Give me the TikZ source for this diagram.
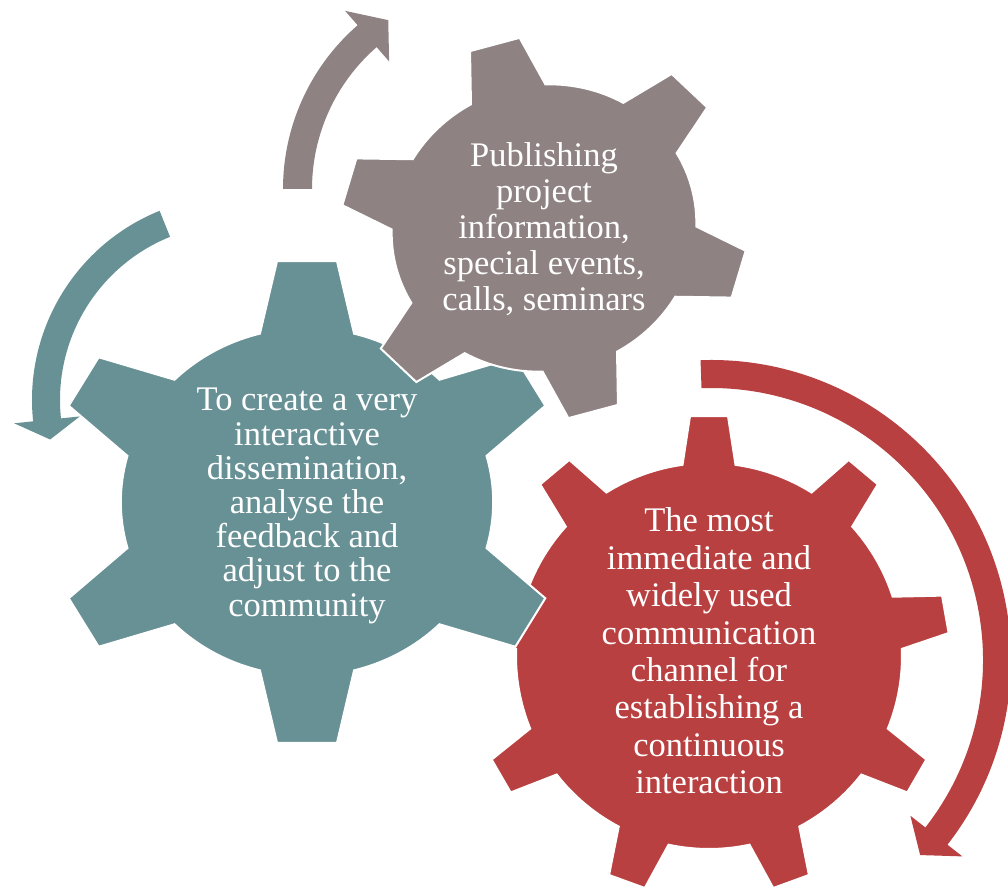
\documentclass[tikz,border=0pt]{standalone}
\usepackage{fontspec}
\setmainfont{Liberation Serif}
\definecolor{gearred}{RGB}{185,64,64}
\definecolor{gearteal}{RGB}{103,145,149}
\definecolor{geargrey}{RGB}{142,130,130}

\newcommand{\gear}[6]{%
  \pgfmathsetmacro{\gstep}{360/#2}%
  \pgfmathtruncatemacro{\glast}{#2-1}%
  \pgfmathsetmacro{\gb}{asin(#5/#3)}%
  \pgfmathsetmacro{\gt}{atan(#6/#4)}%
  \pgfmathsetmacro{\gr}{#4/cos(\gt)}%
  \filldraw[#1] ({90-\gb}:#3)
    \foreach \k in {0,...,\glast}{
      -- ({90+\k*\gstep-\gb}:#3) -- ({90+\k*\gstep-\gt}:\gr)
      -- ({90+\k*\gstep+\gt}:\gr) -- ({90+\k*\gstep+\gb}:#3)
      arc[start angle={90+\k*\gstep+\gb}, end angle={90+(\k+1)*\gstep-\gb}, radius=#3]
    } -- cycle;
}
\newcommand{\turnarrow}[6]{%
  \fill[#1] (#2:#5) arc[start angle=#2, end angle=#3, radius=#5]
    -- ({#3}:{#5+19}) -- ({#6}:{(#4+#5)/2}) -- ({#3}:{#4-19}) -- (#3:#4)
    arc[start angle=#3, end angle=#2, radius=#4] -- cycle;
}

\begin{document}
\begin{tikzpicture}[x=1pt, y=1pt,
  gearbox/.style={draw=white, line width=2pt},
  geartext/.style={text=white, align=center}]
\useasboundingbox (0,0) rectangle (1008,886);
\coordinate (gred) at (709,230);
\coordinate (gteal) at (307,384);
\coordinate (ggrey) at (544,658);
\coordinate (ared) at (711,226);
\coordinate (ateal) at (236,486);
\coordinate (agrey) at (500,697);
\turnarrow{gearred, shift={(ared)}}{92}{-38}{272}{300}{-43}
\turnarrow{gearteal, shift={(ateal)}}{112}{186}{176}{204}{192}
\turnarrow{geargrey, shift={(agrey)}}{180}{131}{188}{217}{123.5}
\gear{gearbox, fill=gearred, shift={(gred)}}{9}{193}{240}{26.5}{19}
\gear{gearbox, fill=gearteal, shift={(gteal)}, xscale=1.07}{6}{174}{241}{44}{28}
\gear{gearbox, fill=geargrey, shift={(ggrey)}, rotate=15, xscale=1.07}{6}{143}{190}{36}{24}
\node[geartext, font=\fontsize{34.5}{37.4}\selectfont] (tred) at (709,235)
  {The most\\immediate and\\widely used\\communication\\channel for\\establishing a\\continuous\\interaction};
\node[geartext, font=\fontsize{34.5}{34.2}\selectfont] (tteal) at (307,380)
  {To create a very\\interactive\\dissemination,\\analyse the\\feedback and\\adjust to the\\community};
\node[geartext, font=\fontsize{34.5}{36}\selectfont] (tgrey) at (544,657)
  {Publishing\\project\\information,\\special events,\\calls, seminars};
\end{tikzpicture}
\end{document}
